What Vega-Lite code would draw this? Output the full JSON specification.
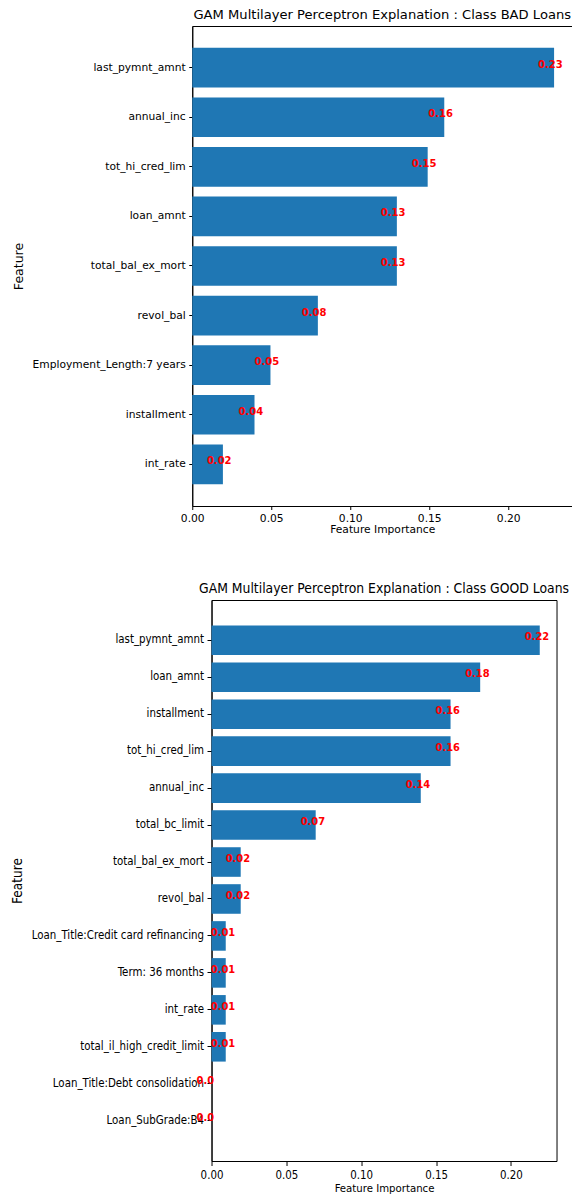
{
  "$schema": "https://vega.github.io/schema/vega-lite/v6.json",
  "background": "white",
  "padding": {"top": 8, "left": 10, "right": 0, "bottom": 0},
  "spacing": 46,
  "center": true,
  "config": {
    "view": {"stroke": "black", "strokeWidth": 1},
    "axis": {"grid": false, "domainColor": "black", "tickColor": "black", "labelColor": "black", "titleColor": "black", "tickSize": 3.5, "labelPadding": 3.5, "titleFontWeight": "normal"},
    "title": {"fontWeight": "normal", "color": "black"}
  },
  "vconcat": [
    {
      "title": {"text": "GAM Multilayer Perceptron Explanation : Class BAD Loans", "font": "DejaVu Sans", "fontSize": 13.1, "offset": 4},
      "width": 380,
      "height": 480,
      "data": {"values": [
        {"feature": "last_pymnt_amnt", "importance": 0.229, "label": "0.23"},
        {"feature": "annual_inc", "importance": 0.1595, "label": "0.16"},
        {"feature": "tot_hi_cred_lim", "importance": 0.149, "label": "0.15"},
        {"feature": "loan_amnt", "importance": 0.1295, "label": "0.13"},
        {"feature": "total_bal_ex_mort", "importance": 0.1295, "label": "0.13"},
        {"feature": "revol_bal", "importance": 0.0795, "label": "0.08"},
        {"feature": "Employment_Length:7 years", "importance": 0.0495, "label": "0.05"},
        {"feature": "installment", "importance": 0.0394, "label": "0.04"},
        {"feature": "int_rate", "importance": 0.0194, "label": "0.02"}
      ]},
      "encoding": {
        "x": {"field": "importance", "type": "quantitative",
          "scale": {"domain": [0, 0.2405], "nice": false, "zero": true},
          "axis": {"title": "Feature Importance", "values": [0, 0.05, 0.1, 0.15, 0.2], "format": ".2f", "titleFont": "DejaVu Sans", "titleFontSize": 10.7, "titlePadding": 2, "labelFont": "DejaVu Sans", "labelFontSize": 10.7, "labelFlush": false}}
      },
      "layer": [
        {"mark": {"type": "bar", "color": "#1f77b4"},
          "encoding": {
            "y": {"field": "feature", "type": "nominal", "sort": null,
              "scale": {"paddingInner": 0.2, "paddingOuter": 0.44},
              "axis": {"title": "Feature", "titleFont": "DejaVu Sans", "titleFontSize": 12.5, "titleAngle": -90, "titleX": -174, "titleBaseline": "middle", "labelFont": "DejaVu Sans", "labelFontSize": 10.7, "labelLimit": 300}}
          }},
        {"mark": {"type": "text", "color": "red", "fontWeight": "bold", "font": "DejaVu Sans", "fontSize": 10, "align": "left", "baseline": "alphabetic", "dx": -16},
          "encoding": {
            "y": {"field": "feature", "type": "nominal", "sort": null,
              "axis": {"orient": "right", "title": null, "labels": false, "domain": false, "ticks": true, "tickSize": 15.5, "tickColor": "transparent"}},
            "text": {"field": "label"}
          }}
      ],
      "resolve": {"axis": {"y": "independent"}}
    },
    {
      "title": {"text": "GAM Multilayer Perceptron Explanation : Class GOOD Loans", "font": "DejaVu Sans Condensed", "fontSize": 13.8, "offset": 4},
      "width": 345,
      "height": 561,
      "data": {"values": [
        {"feature": "last_pymnt_amnt", "importance": 0.2193, "label": "0.22"},
        {"feature": "loan_amnt", "importance": 0.1795, "label": "0.18"},
        {"feature": "installment", "importance": 0.1597, "label": "0.16"},
        {"feature": "tot_hi_cred_lim", "importance": 0.1597, "label": "0.16"},
        {"feature": "annual_inc", "importance": 0.1398, "label": "0.14"},
        {"feature": "total_bc_limit", "importance": 0.0696, "label": "0.07"},
        {"feature": "total_bal_ex_mort", "importance": 0.0195, "label": "0.02"},
        {"feature": "revol_bal", "importance": 0.0195, "label": "0.02"},
        {"feature": "Loan_Title:Credit card refinancing", "importance": 0.0095, "label": "0.01"},
        {"feature": "Term: 36 months", "importance": 0.0095, "label": "0.01"},
        {"feature": "int_rate", "importance": 0.0095, "label": "0.01"},
        {"feature": "total_il_high_credit_limit", "importance": 0.0095, "label": "0.01"},
        {"feature": "Loan_Title:Debt consolidation", "importance": 0, "label": "0.0"},
        {"feature": "Loan_SubGrade:B4", "importance": 0, "label": "0.0"}
      ]},
      "encoding": {
        "y": {"field": "feature", "type": "nominal", "sort": null,
          "scale": {"paddingInner": 0.2, "paddingOuter": 0.69},
          "axis": {"title": "Feature", "titleFont": "DejaVu Sans Condensed", "titleFontSize": 13.5, "titleAngle": -90, "titleX": -194, "titleBaseline": "middle", "labelFont": "DejaVu Sans Condensed", "labelFontSize": 11.4, "labelLimit": 300, "tickSize": 4.5}},
        "x": {"field": "importance", "type": "quantitative",
          "scale": {"domain": [0, 0.2305], "nice": false, "zero": true},
          "axis": {"title": "Feature Importance", "values": [0, 0.05, 0.1, 0.15, 0.2], "format": ".2f", "titleFont": "DejaVu Sans Condensed", "titleFontSize": 11.3, "titlePadding": 2, "labelFont": "DejaVu Sans Condensed", "labelFontSize": 11.4, "labelFlush": false, "tickSize": 4.5}}
      },
      "layer": [
        {"mark": {"type": "bar", "color": "#1f77b4"}},
        {"mark": {"type": "text", "color": "red", "fontWeight": "bold", "font": "DejaVu Sans Condensed", "fontSize": 11, "align": "left", "baseline": "alphabetic", "dx": -15},
          "encoding": {"text": {"field": "label"}}}
      ]
    }
  ]
}
